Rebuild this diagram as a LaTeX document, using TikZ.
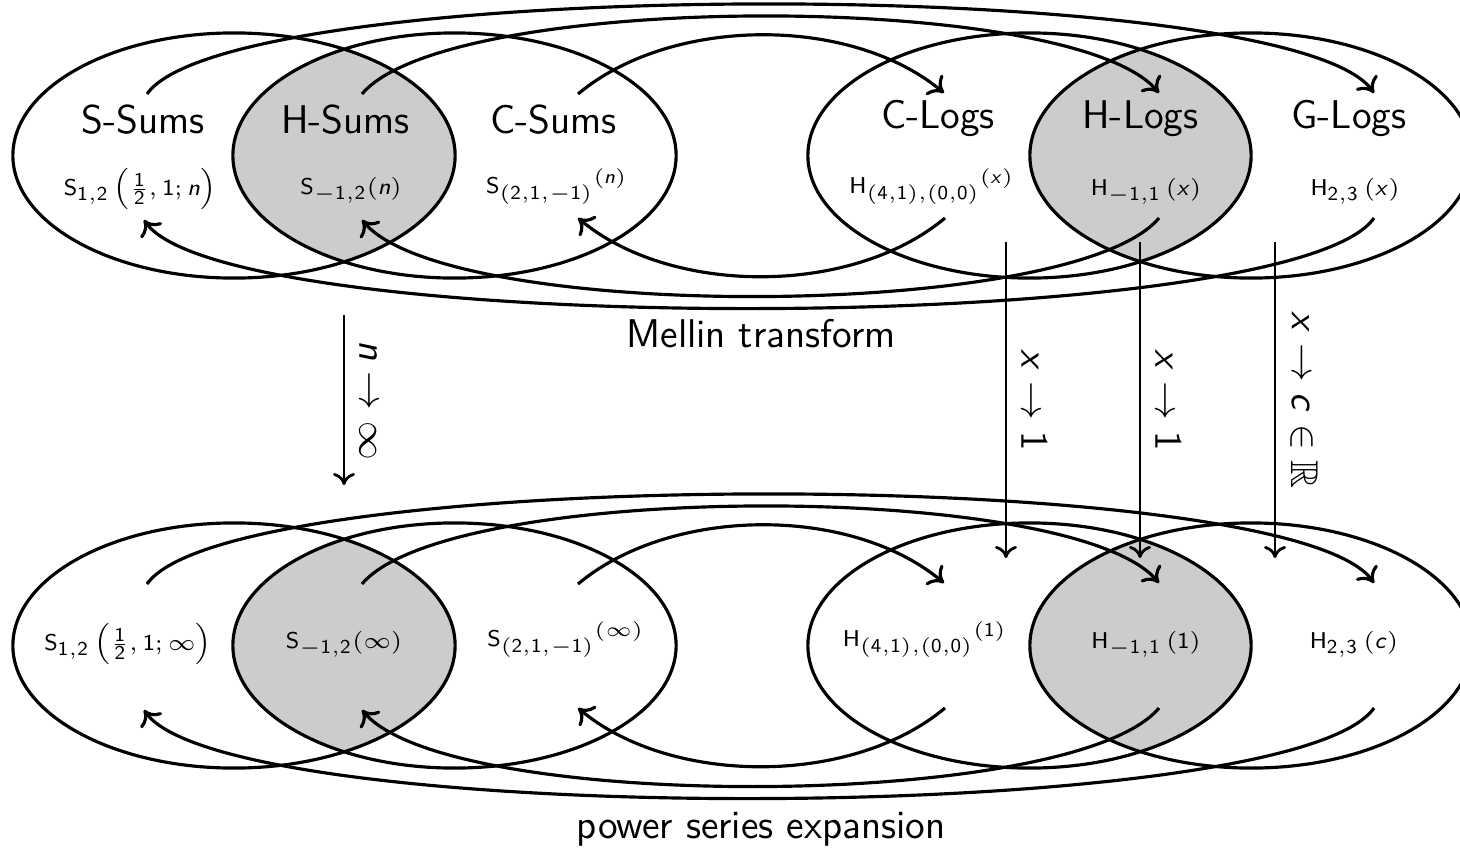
\RequirePackage{fix-cm}
\documentclass[tikz,border=0pt]{standalone}
\usepackage{amsmath,amssymb}
\usetikzlibrary{arrows.meta,calc}
\DeclareMathAlphabet{\mathsfsl}{OT1}{cmss}{m}{sl}
\DeclareMathSizes{6.5}{6.5}{5.6}{5}
\newcommand\vS{\mathsf{S}}
\newcommand\vH{\mathsf{H}}
\newcommand\vn{\mathsfsl{n}}
\newcommand\vx{\mathsfsl{x}}
\newcommand\vc{\mathsfsl{c}}
\newcommand\dg[1]{\mathsf{#1}}
\tikzset{
  lbl/.style={font=\sffamily\fontsize{11.4}{13}\selectfont, anchor=base, inner sep=0pt},
  fml/.style={font=\sffamily\fontsize{6.5}{7.5}\selectfont, anchor=base, inner sep=0pt},
  ring/.style={line width=0.9pt},
  flow/.style={line width=0.9pt, -{Computer Modern Rightarrow[length=1.4mm,width=2.6mm]}},
  limit/.style={line width=0.8pt, -{Computer Modern Rightarrow[length=1.2mm,width=2.2mm]}},
  limlbl/.style={font=\sffamily\fontsize{11}{13}\selectfont, rotate=-90, anchor=south, inner sep=4pt},
  lens/.style={fill=black!20}
}
\begin{document}
\begin{tikzpicture}[x=0.01cm,y=-0.01cm]
\useasboundingbox (0,0) rectangle (1460,848);
% shaded intersections
\begin{scope}
  \clip (234,155.5) ellipse [x radius=2.21cm, y radius=1.225cm];
  \fill[lens] (454.5,155.5) ellipse [x radius=2.215cm, y radius=1.225cm];
\end{scope}
\begin{scope}
  \clip (1029.5,155.5) ellipse [x radius=2.215cm, y radius=1.225cm];
  \fill[lens] (1251,155.5) ellipse [x radius=2.21cm, y radius=1.225cm];
\end{scope}
\begin{scope}
  \clip (234,645.5) ellipse [x radius=2.21cm, y radius=1.225cm];
  \fill[lens] (454.5,645.5) ellipse [x radius=2.215cm, y radius=1.225cm];
\end{scope}
\begin{scope}
  \clip (1029.5,645.5) ellipse [x radius=2.215cm, y radius=1.225cm];
  \fill[lens] (1251,645.5) ellipse [x radius=2.21cm, y radius=1.225cm];
\end{scope}
% ellipses
\draw[ring] (234,155.5) ellipse [x radius=2.21cm, y radius=1.225cm];
\draw[ring] (454.5,155.5) ellipse [x radius=2.215cm, y radius=1.225cm];
\draw[ring] (1029.5,155.5) ellipse [x radius=2.215cm, y radius=1.225cm];
\draw[ring] (1251,155.5) ellipse [x radius=2.21cm, y radius=1.225cm];
\draw[ring] (234,645.5) ellipse [x radius=2.21cm, y radius=1.225cm];
\draw[ring] (454.5,645.5) ellipse [x radius=2.215cm, y radius=1.225cm];
\draw[ring] (1029.5,645.5) ellipse [x radius=2.215cm, y radius=1.225cm];
\draw[ring] (1251,645.5) ellipse [x radius=2.21cm, y radius=1.225cm];

% labels top row
\node[lbl] (ssum) at (143,133) {S-Sums};
\node[lbl] (hsum) at (345.5,133) {H-Sums};
\node[lbl] (csum) at (553.5,133) {C-Sums};
\node[lbl] (clog) at (938,128) {C-Logs};
\node[lbl] (hlog) at (1140.5,128) {H-Logs};
\node[lbl] (glog) at (1349,128) {G-Logs};

% formulas top row
\node[fml] (f1) at (140,195) {$\vS_{\dg{1,2}}\left(\tfrac{\dg1}{\dg2},\dg{1};\vn\right)$};
\node[fml] (f2) at (351,194) {$\vS_{-\dg{1,2}}(\vn)$};
\node[fml] (f3) at (557,193) {$\vS_{(\dg{2,1},-\dg{1})}{}^{(\vn)}$};
\node[fml] (f4) at (932,193) {$\vH_{(\dg{4,1}),(\dg{0,0})}{}^{(\vx)}$};
\node[fml] (f5) at (1146,195) {$\vH_{-\dg{1,1}}\,(\vx)$};
\node[fml] (f6) at (1355,195) {$\vH_{\dg{2,3}}\,(\vx)$};

% formulas bottom row
\node[fml] (g1) at (128,650) {$\vS_{\dg{1,2}}\left(\tfrac{\dg1}{\dg2},\dg{1};\infty\right)$};
\node[fml] (g2) at (344,648) {$\vS_{-\dg{1,2}}(\infty)$};
\node[fml] (g3) at (566,646) {$\vS_{(\dg{2,1},-\dg{1})}{}^{(\infty)}$};
\node[fml] (g4) at (925,646) {$\vH_{(\dg{4,1}),(\dg{0,0})}{}^{(\dg{1})}$};
\node[fml] (g5) at (1146,648) {$\vH_{-\dg{1,1}}\,(\dg{1})$};
\node[fml] (g6) at (1354,648) {$\vH_{\dg{2,3}}\,(\vc)$};

\node[lbl] (mellin) at (761,347) {Mellin transform};
\node[lbl] (pse) at (761,838) {power series expansion};

% arc end points, top row
\coordinate (sAt) at (147,94);  \coordinate (sBt) at (362,94);  \coordinate (sCt) at (578,94);
\coordinate (lAt) at (944,93);  \coordinate (lBt) at (1159,93); \coordinate (lCt) at (1374,93);
\coordinate (sAb) at (144,220); \coordinate (sBb) at (362,220); \coordinate (sCb) at (578,218);
\coordinate (lAb) at (945,218); \coordinate (lBb) at (1159,218); \coordinate (lCb) at (1374,218);
% arc end points, bottom row
\coordinate (sAt2) at (147,584);  \coordinate (sBt2) at (362,584);  \coordinate (sCt2) at (578,584);
\coordinate (lAt2) at (944,583);  \coordinate (lBt2) at (1159,583); \coordinate (lCt2) at (1374,583);
\coordinate (sAb2) at (144,710); \coordinate (sBb2) at (362,710); \coordinate (sCb2) at (578,708);
\coordinate (lAb2) at (945,708); \coordinate (lBb2) at (1159,708); \coordinate (lCb2) at (1374,708);

% Mellin transform cycle, top row
\draw[flow] (sAt) .. controls ($(sAt)+(83,-119)$) and ($(lCt)+(-83,-119)$) .. (lCt);
\draw[flow] (sBt) .. controls ($(sBt)+(86,-103)$) and ($(lBt)+(-86,-103)$) .. (lBt);
\draw[flow] (sCt) .. controls ($(sCt)+(93,-78)$) and ($(lAt)+(-93,-78)$) .. (lAt);
\draw[flow] (lCb) .. controls ($(lCb)+(-83,119)$) and ($(sAb)+(83,119)$) .. (sAb);
\draw[flow] (lBb) .. controls ($(lBb)+(-86,103)$) and ($(sBb)+(86,103)$) .. (sBb);
\draw[flow] (lAb) .. controls ($(lAb)+(-93,78)$) and ($(sCb)+(93,78)$) .. (sCb);
% bottom row
\draw[flow] (sAt2) .. controls ($(sAt2)+(83,-119)$) and ($(lCt2)+(-83,-119)$) .. (lCt2);
\draw[flow] (sBt2) .. controls ($(sBt2)+(86,-103)$) and ($(lBt2)+(-86,-103)$) .. (lBt2);
\draw[flow] (sCt2) .. controls ($(sCt2)+(93,-78)$) and ($(lAt2)+(-93,-78)$) .. (lAt2);
\draw[flow] (lCb2) .. controls ($(lCb2)+(-83,119)$) and ($(sAb2)+(83,119)$) .. (sAb2);
\draw[flow] (lBb2) .. controls ($(lBb2)+(-86,103)$) and ($(sBb2)+(86,103)$) .. (sBb2);
\draw[flow] (lAb2) .. controls ($(lAb2)+(-93,78)$) and ($(sCb2)+(93,78)$) .. (sCb2);

% limits
\coordinate (nTop) at (344,315);  \coordinate (nBot) at (344,485);
\coordinate (x1Top) at (1006,242); \coordinate (x1Bot) at (1006,558);
\coordinate (x2Top) at (1140,242); \coordinate (x2Bot) at (1140,558);
\coordinate (x3Top) at (1275,242); \coordinate (x3Bot) at (1275,558);
\draw[limit] (nTop) -- node[limlbl] (ln) {$\vn\to\infty$} (nBot);
\draw[limit] (x1Top) -- node[limlbl] (lx1) {$\vx\to\dg{1}$} (x1Bot);
\draw[limit] (x2Top) -- node[limlbl] (lx2) {$\vx\to\dg{1}$} (x2Bot);
\draw[limit] (x3Top) -- node[limlbl] (lx3) {$\vx\to\vc\in\mathbb{R}$} (x3Bot);
\end{tikzpicture}
\end{document}
